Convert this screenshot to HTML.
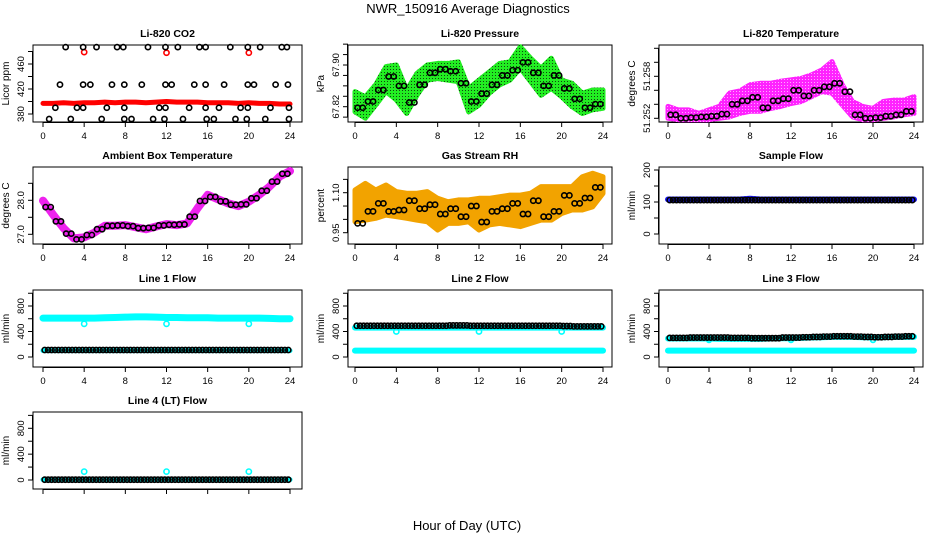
<!DOCTYPE html>
<html><head><meta charset="utf-8">
<style>
html,body{margin:0;padding:0;background:#fff;}
svg{display:block;font-family:"Liberation Sans",Arial,sans-serif;}
</style></head>
<body>
<svg id="c" width="936" height="540" viewBox="0 0 936 540" xmlns="http://www.w3.org/2000/svg">
<defs>
<pattern id="pat-pres" width="3" height="3" patternUnits="userSpaceOnUse"><rect width="3" height="3" fill="#22ee22"/><rect width="1" height="1" fill="#114411"/></pattern>
<pattern id="pat-temp" width="3" height="3" patternUnits="userSpaceOnUse"><rect width="3" height="3" fill="#ff22ff"/><rect x="1" y="1" width="1" height="1" fill="#ffaaff"/></pattern>
</defs>
<text x="468" y="13" font-size="13" text-anchor="middle">NWR_150916  Average Diagnostics</text>
<text x="467" y="530" font-size="13" text-anchor="middle">Hour of Day (UTC)</text>
</svg>
<script>
// ---- data ----
const hours = [0,1,2,3,4,5,6,7,8,9,10,11,12,13,14,15,16,17,18,19,20,21,22,23,24];
const xTicks = [0,4,8,12,16,20,24];

// CO2
const co2RedLevel = [397,397,398,397,398,398,399,398,399,399,398,399,400,399,399,399,398,398,398,397,398,397,397,396,396];
const co2RedOutX = [4,12,20];
const co2RedOutY = [479,478,478];
const co2BlkX = [2.2,3.9,5.2,7.2,7.8,10.2,11.9,13.1,15.2,15.8,18.2,19.9,21.1,23.2,23.7,
  1.65,3.9,4.6,6.7,7.9,9.6,11.9,12.5,14.7,15.8,17.6,19.9,20.5,22.6,23.8,
  1.2,3.3,3.9,6.2,7.9,11.3,11.9,14.2,15.8,17.1,19.2,19.9,22.1,23.9,
  0.6,2.7,5.7,7.9,8.6,10.7,11.8,13.6,15.9,16.6,18.7,19.8,21.6,23.9];
const co2BlkY = [487,487,487,487,487,487,487,487,487,487,487,487,487,487,487,
  427,427,427,427,427,427,427,427,427,427,427,427,427,427,427,
  390,390,390,390,390,390,390,390,390,390,390,390,390,390,
  372,372,372,372,372,372,372,372,372,372,372,372,372,372];

// Pressure
const presHi = [67.849,67.839,67.862,67.897,67.900,67.852,67.884,67.900,67.903,67.903,67.906,67.855,67.871,67.887,67.903,67.906,67.935,67.913,67.894,67.913,67.871,67.865,67.846,67.852,67.852];
const presLo = [67.810,67.798,67.823,67.849,67.833,67.807,67.842,67.871,67.874,67.871,67.868,67.810,67.823,67.846,67.862,67.871,67.894,67.868,67.842,67.855,67.839,67.820,67.807,67.814,67.817];
const presBlk = [67.818,67.830,67.852,67.878,67.860,67.828,67.862,67.885,67.892,67.888,67.865,67.830,67.845,67.862,67.880,67.890,67.905,67.885,67.860,67.880,67.855,67.835,67.818,67.825];

// Li-820 temperature
const tempHi = [51.2537,51.2532,51.2532,51.2527,51.2532,51.2537,51.2556,51.2559,51.2568,51.2570,51.2570,51.2573,51.2575,51.2577,51.2582,51.2589,51.2601,51.2568,51.2544,51.2537,51.2534,51.2544,51.2546,51.2546,51.2551];
const tempLo = [51.2520,51.2518,51.2518,51.2518,51.2518,51.2520,51.2522,51.2527,51.2530,51.2530,51.2534,51.2537,51.2541,51.2544,51.2551,51.2558,51.2556,51.2539,51.2522,51.2518,51.2518,51.2520,51.2522,51.2525,51.2527];
const tempBlk = [51.2525,51.2520,51.2521,51.2522,51.2523,51.2526,51.2540,51.2545,51.2550,51.2535,51.2545,51.2548,51.2560,51.2552,51.2560,51.2565,51.2570,51.2558,51.2525,51.2520,51.2521,51.2523,51.2525,51.2530];

// Ambient box temperature
const ambVals = [27.99,27.57,27.18,26.88,26.91,27.05,27.25,27.25,27.27,27.21,27.15,27.23,27.30,27.27,27.32,27.76,28.16,28.03,27.91,27.83,27.96,28.16,28.40,28.70,28.86];
const ambBlk = [27.80,27.38,27.02,26.85,26.98,27.15,27.25,27.26,27.24,27.18,27.19,27.26,27.28,27.29,27.52,27.98,28.10,27.97,27.87,27.88,28.06,28.28,28.55,28.78];

// Gas stream RH
const rhHi = [1.110,1.135,1.110,1.129,1.104,1.098,1.098,1.104,1.079,1.066,1.073,1.073,1.079,1.079,1.085,1.091,1.091,1.098,1.123,1.123,1.123,1.123,1.160,1.173,1.160];
const rhLo = [0.991,0.997,1.004,1.016,1.010,1.004,0.997,0.991,0.960,0.985,0.985,0.991,0.960,0.979,0.985,0.979,0.973,0.985,0.997,0.997,1.022,1.035,1.035,1.047,1.097];
const rhBlk = [0.985,1.030,1.060,1.030,1.035,1.070,1.040,1.055,1.020,1.040,1.010,1.050,0.990,1.030,1.040,1.060,1.020,1.070,1.010,1.030,1.090,1.060,1.080,1.120];

// Flows
const sampleBlue = [108,108,108,108,108,108,108,108,110,108,108,108,108,108,108,108,108,108,108,108,108,108,108,108,108];
const sampleBlk = [106,106,106,106,106,106,106,106,106,106,106,106,106,106,106,106,106,106,106,106,106,106,106,106];
const l1CyanHi = [610,610,610,610,610,610,615,620,625,630,630,625,620,620,615,615,615,610,610,610,610,610,605,600,600];
const l1CyanLo = [100,100,100,100,100,100,100,100,100,100,100,100,100,100,100,100,100,100,100,100,100,100,100,100,100];
const l1Blk = [110,110,110,110,110,110,110,110,110,110,110,110,110,110,110,110,110,110,110,110,110,110,110,110];
const l2CyanHi = [460,460,460,460,460,460,460,460,460,460,460,460,460,460,460,460,460,460,460,460,460,460,460,460,460];
const l2CyanLo = [100,100,100,100,100,100,100,100,100,100,100,100,100,100,100,100,100,100,100,100,100,100,100,100,100];
const l2Blk = [490,490,490,490,490,490,490,490,490,495,495,490,490,490,490,490,490,490,490,490,485,480,480,480];
const l3CyanHi = [290,290,290,290,290,285,285,285,285,285,290,295,295,300,305,310,315,315,315,310,305,310,315,315,315];
const l3CyanLo = [100,100,100,100,100,100,100,100,100,100,100,100,100,100,100,100,100,100,100,100,100,100,100,100,100];
const l3Blk = [300,300,305,305,305,305,300,300,295,295,295,305,305,310,315,320,325,325,320,315,310,315,320,325];
const l4Cyan = [5,5,5,5,5,5,5,5,5,5,5,5,5,5,5,5,5,5,5,5,5,5,5,5,5];
const l4Blk = [5,5,5,5,5,5,5,5,5,5,5,5,5,5,5,5,5,5,5,5,5,5,5,5];
const dipX = [4,12,20];
const l1DipY = [520,520,520];
const l2DipY = [400,400,400];
const l3DipY = [270,270,270];
const l4DipY = [130,130,130];

// ---- drawing ----
const NS = "http://www.w3.org/2000/svg";
const svg = document.getElementById('c');
const cols = [{L:33,R:302,x0:43,x24:290},{L:348,R:612,x0:355,x24:603},{L:659,R:923,x0:668,x24:914}];
const rowsTop = [45,167,290,412];
const H = 77;

function mk(tag, attrs, parent){
  const e = document.createElementNS(NS, tag);
  for (const k in attrs) e.setAttribute(k, attrs[k]);
  (parent||svg).appendChild(e);
  return e;
}

function panel(opt){
  const c = cols[opt.col], top = rowsTop[opt.row], bot = top + H;
  const g = mk('g', {});
  
  
  const xs = h => c.x0 + (c.x24 - c.x0) * h / 24;
  const [v1,p1,v2,p2] = opt.ymap;
  const ys = v => top + p1 + (v - v1) * (p2 - p1) / (v2 - v1);
  const t = mk('text', {x:(c.L+c.R)/2, y:top-8, 'font-size':10.5, 'font-weight':'bold', 'text-anchor':'middle'}, g);
  t.textContent = opt.title;
  
  
  const bx = mk('rect', {x:c.L, y:top, width:c.R-c.L, height:H, fill:'none', stroke:'#000', 'stroke-width':1}, g);
  
  
  const xa = mk('g', {}, g);
  
  
  mk('line', {x1:xs(0), x2:xs(24), y1:bot+0.5, y2:bot+0.5, stroke:'#000'}, xa);
  xTicks.forEach(h => {
    mk('line', {x1:xs(h), x2:xs(h), y1:bot, y2:bot+5, stroke:'#000'}, xa);
    if (opt.row < 3) {
      const tl = mk('text', {x:xs(h), y:bot+17, 'font-size':9.5, 'text-anchor':'middle'}, xa);
      tl.textContent = h;
      
      
    }
  });
  const ya = mk('g', {}, g);
  
  
  const yt = opt.yticks;
  mk('line', {x1:c.L-0.5, x2:c.L-0.5, y1:ys(yt[0]), y2:ys(yt[yt.length-1]), stroke:'#000'}, ya);
  yt.forEach(v => mk('line', {x1:c.L-5, x2:c.L, y1:ys(v), y2:ys(v), stroke:'#000'}, ya));
  opt.ylabels.forEach(v => {
    const y = ys(v), x = c.L - 9;
    const tl = mk('text', {x:x, y:y, 'font-size':9.5, 'text-anchor':'middle', transform:`rotate(-90 ${x} ${y})`}, ya);
    tl.textContent = opt.fmt ? opt.fmt(v) : v;
    
    
  });
  const tx = c.L - 24, ty = top + H/2;
  const yl = mk('text', {x:tx, y:ty, 'font-size':10, 'text-anchor':'middle', transform:`rotate(-90 ${tx} ${ty})`}, ya);
  yl.textContent = opt.ytitle;
  
  
  return {g, xs, ys};
}

function band(p, hi, lo, fill, name, w){
  let d = 'M' + hours.map((h,i)=>p.xs(h)+','+p.ys(hi[i])).join('L');
  d += 'L' + hours.slice().reverse().map((h,j)=>{const i=hours.length-1-j; return p.xs(h)+','+p.ys(lo[i]);}).join('L') + 'Z';
  const e = mk('path', {d:d, fill:fill, stroke:fill, 'stroke-width':w||5, 'stroke-linejoin':'round'}, p.g);
  
  
}
function line(p, vals, color, w, name){
  const d = 'M' + hours.map((h,i)=>p.xs(h)+','+p.ys(vals[i])).join('L');
  const e = mk('path', {d:d, fill:'none', stroke:color, 'stroke-width':w, 'stroke-linejoin':'round', 'stroke-linecap':'round'}, p.g);
  
  
}
function pt(p, h, v, color, name){
  const e = mk('circle', {cx:p.xs(h), cy:p.ys(v), r:2.6, fill:'none', stroke:color, 'stroke-width':1.6}, p.g);
  
  
}
function halfHourPts(p, vals, color, name, per){
  vals.forEach((v,i)=>{
    const n = per||1;
    for (let k=0;k<n;k++){ pt(p, i + (k+0.5)/n, v, color, name); }
  });
}

let p = panel({name:'co2-panel', col:0,row:0,title:'Li-820 CO2', ytitle:'Licor ppm', ymap:[380,69,460,19], yticks:[380,400,420,440,460,480], ylabels:[380,420,460]});
line(p, co2RedLevel, '#f00', 5, 'co2-red-series');
co2RedOutX.forEach((h,i)=>pt(p,h,co2RedOutY[i],'#f00','co2-red-outlier'));
co2BlkX.forEach((h,i)=>pt(p,h,co2BlkY[i],'#000','co2-black-point'));

p = panel({name:'pressure-panel', col:1,row:0,title:'Li-820 Pressure', ytitle:'kPa', ymap:[67.82,61.7,67.90,20], yticks:[67.80,67.82,67.84,67.86,67.88,67.90,67.92,67.94], ylabels:[67.82,67.90], fmt:v=>v.toFixed(2)});
band(p, presHi, presLo, 'url(#pat-pres)', 'pressure-green-cloud');
halfHourPts(p, presBlk, '#000', 'pressure-black-point', 2);

p = panel({name:'li820-temperature-panel', col:2,row:0,title:'Li-820 Temperature', ytitle:'degrees C', ymap:[51.252,73.3,51.258,31.3], yticks:[51.252,51.254,51.256,51.258,51.260,51.262], ylabels:[51.252,51.258], fmt:v=>v.toFixed(3)});
band(p, tempHi, tempLo, 'url(#pat-temp)', 'temperature-magenta-cloud');
halfHourPts(p, tempBlk, '#000', 'temperature-black-point', 2);

p = panel({name:'ambient-temperature-panel', col:0,row:1,title:'Ambient Box Temperature', ytitle:'degrees C', ymap:[27,67.3,28,33.3], yticks:[27,27.5,28,28.5], ylabels:[27,28], fmt:v=>v.toFixed(1)});
line(p, ambVals, '#ee22ee', 8, 'ambient-magenta-series');
halfHourPts(p, ambBlk, '#000', 'ambient-black-point', 2);

p = panel({name:'rh-panel', col:1,row:1,title:'Gas Stream RH', ytitle:'percent', ymap:[0.95,65.7,1.10,25.7], yticks:[0.95,1.00,1.05,1.10,1.15], ylabels:[0.95,1.10], fmt:v=>v.toFixed(2)});
band(p, rhHi, rhLo, '#f2a300', 'rh-orange-cloud');
halfHourPts(p, rhBlk, '#000', 'rh-black-point', 2);

p = panel({name:'sample-flow-panel', col:2,row:1,title:'Sample Flow', ytitle:'ml/min', ymap:[0,67,200,3], yticks:[0,50,100,150,200], ylabels:[0,100,200]});
line(p, sampleBlue, '#1a1aff', 6, 'sample-blue-series');
halfHourPts(p, sampleBlk, '#000', 'sample-black-point', 3);

const flowTicks = [0,200,400,600,800,1000], flowLabels = [0,400,800];
p = panel({name:'line1-flow-panel', col:0,row:2,title:'Line 1 Flow', ytitle:'ml/min', ymap:[0,67,800,16], yticks:flowTicks, ylabels:flowLabels});
line(p, l1CyanHi, '#00ffff', 7, 'line1-cyan-high');
line(p, l1CyanLo, '#00ffff', 5, 'line1-cyan-low');
dipX.forEach((h,i)=>pt(p,h,l1DipY[i],'#00ffff','line1-cyan-dip'));
halfHourPts(p, l1Blk, '#000', 'line1-black-point', 3);

p = panel({name:'line2-flow-panel', col:1,row:2,title:'Line 2 Flow', ytitle:'ml/min', ymap:[0,67,800,16], yticks:flowTicks, ylabels:flowLabels});
line(p, l2CyanHi, '#00ffff', 6, 'line2-cyan-high');
line(p, l2CyanLo, '#00ffff', 6, 'line2-cyan-low');
dipX.forEach((h,i)=>pt(p,h,l2DipY[i],'#00ffff','line2-cyan-dip'));
halfHourPts(p, l2Blk, '#000', 'line2-black-point', 3);

p = panel({name:'line3-flow-panel', col:2,row:2,title:'Line 3 Flow', ytitle:'ml/min', ymap:[0,67,800,16], yticks:flowTicks, ylabels:flowLabels});
line(p, l3CyanHi, '#00ffff', 6, 'line3-cyan-high');
line(p, l3CyanLo, '#00ffff', 6, 'line3-cyan-low');
dipX.forEach((h,i)=>pt(p,h,l3DipY[i],'#00ffff','line3-cyan-dip'));
halfHourPts(p, l3Blk, '#000', 'line3-black-point', 3);

p = panel({name:'line4-flow-panel', col:0,row:3,title:'Line 4 (LT) Flow', ytitle:'ml/min', ymap:[0,68,800,16.3], yticks:flowTicks, ylabels:flowLabels});
line(p, l4Cyan, '#00ffff', 5, 'line4-cyan-series');
dipX.forEach((h,i)=>pt(p,h,l4DipY[i],'#00ffff','line4-cyan-dip'));
halfHourPts(p, l4Blk, '#000', 'line4-black-point', 3);
</script>
</body></html>
